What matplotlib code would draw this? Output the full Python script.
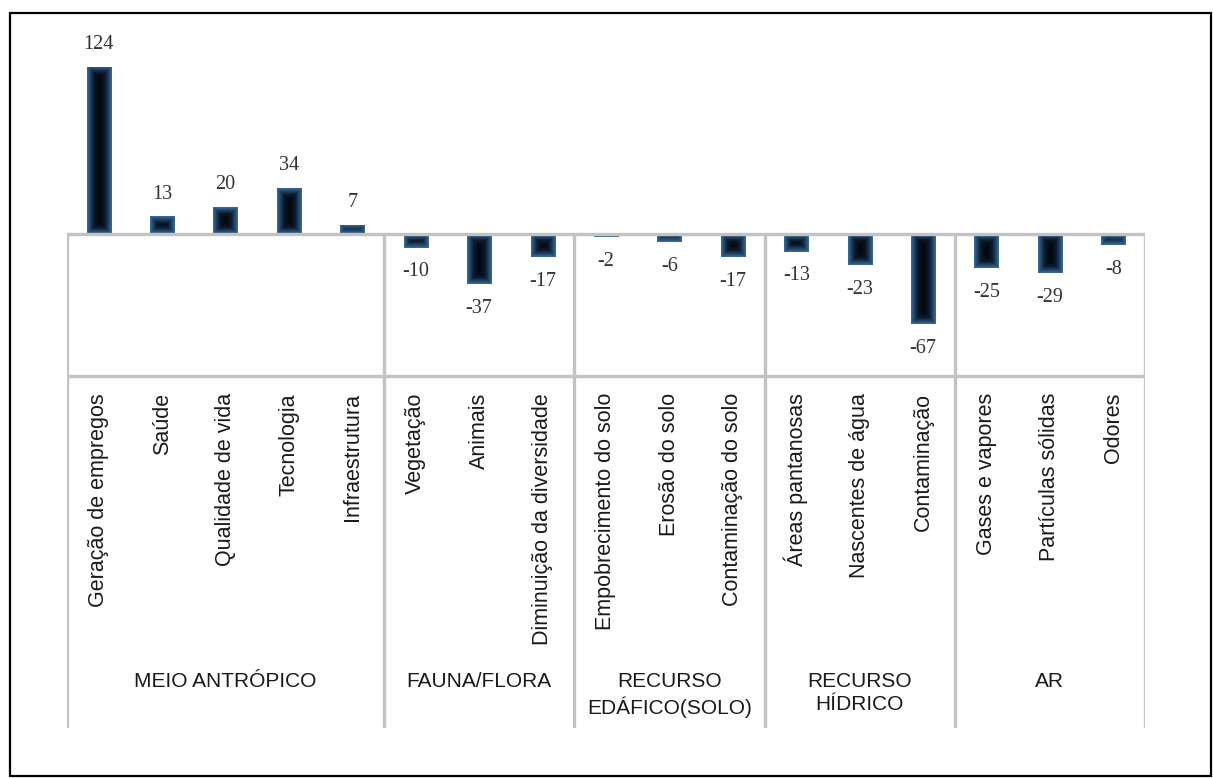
import numpy as np
import matplotlib
matplotlib.use("Agg")
import matplotlib.pyplot as plt
from matplotlib.colors import LinearSegmentedColormap
from matplotlib.patches import Rectangle

# data
categorias = ["Geração de empregos", "Saúde", "Qualidade de vida", "Tecnologia", "Infraestrutura",
              "Vegetação", "Animais", "Diminuição da diversidade",
              "Empobrecimento do solo", "Erosão do solo", "Contaminação do solo",
              "Áreas pantanosas", "Nascentes de água", "Contaminação",
              "Gases e vapores", "Partículas sólidas", "Odores"]
valores = [124, 13, 20, 34, 7, -10, -37, -17, -2, -6, -17, -13, -23, -67, -25, -29, -8]
grupos = ["MEIO ANTRÓPICO", "FAUNA/FLORA", "RECURSO\nEDÁFICO(SOLO)", "RECURSO\nHÍDRICO", "AR"]
n_por_grupo = [5, 3, 3, 3, 3]

W, H = 1213, 778
fig = plt.figure(figsize=(W / 100, H / 100), dpi=100)
fig.patch.set_facecolor("white")

# axes covers bar area + label table (pixel 20 .. 728 vertically)
ax = fig.add_axes([67 / W, 1 - 728 / H, 1078 / W, (728 - 20) / H])
px = 1.35  # pixels per unit
ylim = (-(728 - 234) / px, (234 - 20) / px)
ax.axis("off")

x = np.arange(len(valores)) + 0.5
bars = ax.bar(x, valores, width=0.38, color="#0b1a2b", zorder=2)

# gradient fill: blue glow at edges, near black in the middle
cmap = LinearSegmentedColormap.from_list("barra", ["#3f72a0", "#24496e", "#0c1a2c", "#040910"])
for b in bars:
    bx, by = b.get_x(), b.get_y()
    bw, bh = b.get_width(), b.get_height()
    nx = 24
    ny = max(int(abs(bh) * px), 2)
    ii, jj = np.mgrid[0:ny, 0:nx]
    d = np.minimum(np.minimum(jj + 0.5, nx - 0.5 - jj), np.minimum(ii + 0.5, ny - 0.5 - ii))
    t = np.clip(d / 11.0, 0, 1) ** 0.8
    y0, y1 = by, by + bh
    im = ax.imshow(t, cmap=cmap, vmin=0, vmax=1, aspect="auto",
                   extent=[bx, bx + bw, min(y0, y1), max(y0, y1)], zorder=3, interpolation="bilinear")
    im.set_clip_path(b)
ax.set_xlim(0, len(valores))
ax.set_ylim(*ylim)

# value labels
for xi, v in zip(x, valores):
    off = 16 if v > 0 else -17.5
    ax.annotate(str(v), (xi, v), xytext=(0, off), textcoords="offset points",
                ha="center", va="center", fontsize=14.5, family="Liberation Serif",
                color="#333333", zorder=5)

# table lines
cinza = "#c3c3c3"
lw = 2.4
ybot = ylim[0]
ylin = -(376 - 234) / px
ax.plot([-0.03, len(valores)], [0, 0], color=cinza, lw=lw, zorder=4, solid_capstyle="butt")
ax.plot([0, len(valores) + 0.08], [ylin, ylin], color=cinza, lw=lw, zorder=4, solid_capstyle="butt")
limites = np.concatenate([[0], np.cumsum(n_por_grupo)])
ax.vlines(limites, ybot, 0, color=cinza, lw=lw, zorder=4)

# category labels (vertical)
ylab = -(393 - 234) / px
for xi, c in zip(x, categorias):
    ax.text(xi, ylab, c, rotation=90, ha="center", va="top", fontsize=15.5,
            family="Liberation Sans", color="#1a1a1a")

# group labels
ygrp = -(672 - 234) / px
for a, b_, g in zip(limites[:-1], limites[1:], grupos):
    ax.text((a + b_) / 2, ygrp, g, ha="center", va="top", fontsize=15,
            family="Liberation Sans", color="#1a1a1a", linespacing=1.3)

# outer frame
fig.add_artist(Rectangle((10 / W, 1 - 776 / H), (1211 - 10) / W, (776 - 13) / H,
                         transform=fig.transFigure, fill=False, edgecolor="black", lw=1.6))

fig.savefig("out.png", dpi=100)
